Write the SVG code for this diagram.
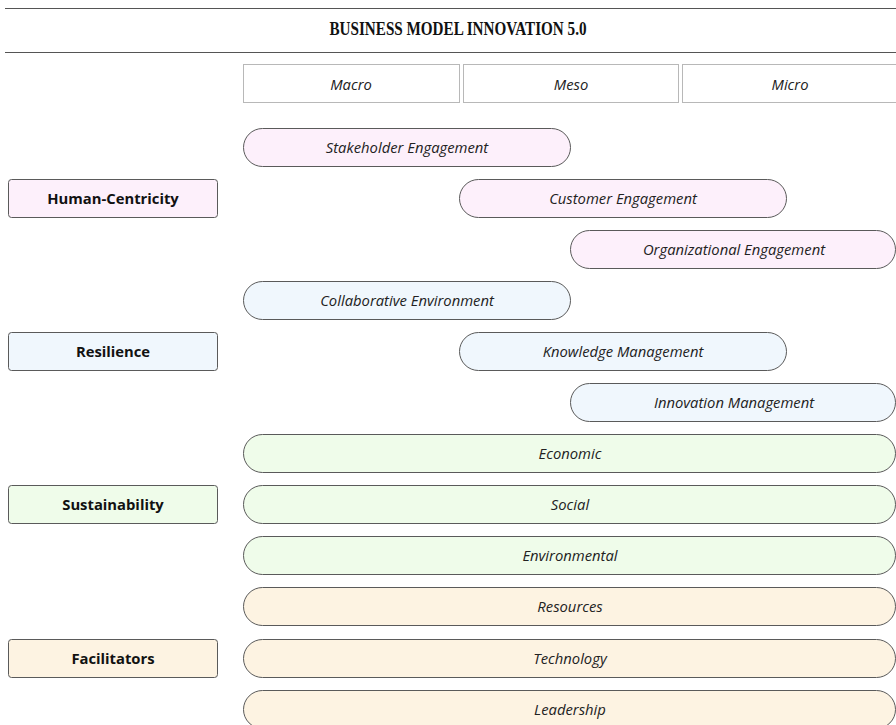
<svg xmlns="http://www.w3.org/2000/svg" width="896" height="725" viewBox="0 0 896 725">
<style>
.pill{stroke:#5a5a5a;stroke-width:1}
.lab{stroke:#5a5a5a;stroke-width:1}
.hc{fill:#fdf0fb}.rs{fill:#f0f7fd}.su{fill:#effcea}.fa{fill:#fdf3e2}
.pt{font-family:"Open Sans","Noto Sans",sans-serif;font-style:italic;font-size:14.8px;fill:#222;text-anchor:middle;dominant-baseline:central}
.lt{font-family:"Open Sans","Noto Sans",sans-serif;font-weight:bold;font-size:14.8px;fill:#111;text-anchor:middle;dominant-baseline:central}
.hd{fill:#fff;stroke:#b8b8b8;stroke-width:1}
</style>
<rect width="896" height="725" fill="#fff"/>
<g id="title">
<line x1="5" y1="8.5" x2="896" y2="8.5" stroke="#555" stroke-width="1.2"/>
<line x1="5" y1="52.5" x2="896" y2="52.5" stroke="#555" stroke-width="1.2"/>
<text x="458" y="35" font-family="Liberation Serif,serif" font-weight="bold" font-size="18" text-anchor="middle" textLength="257" lengthAdjust="spacingAndGlyphs" fill="#111">BUSINESS MODEL INNOVATION 5.0</text>
</g>
<g id="header">
<rect class="hd" x="243.5" y="64.5" width="216" height="38"/>
<rect class="hd" x="463.5" y="64.5" width="215" height="38"/>
<rect class="hd" x="682.5" y="64.5" width="216" height="38"/>
<text class="pt" x="351" y="83.5">Macro</text>
<text class="pt" x="571" y="83.5">Meso</text>
<text class="pt" x="790" y="83.5">Micro</text>
</g>
<g id="human-centricity">
<rect class="lab hc" x="8.5" y="179.5" width="209" height="38" rx="3"/>
<text class="lt" x="113" y="198">Human-Centricity</text>
</g>
<g id="stakeholder-engagement">
<rect class="pill hc" x="243.5" y="128.5" width="327" height="38" rx="19"/>
<text class="pt" x="407" y="147">Stakeholder Engagement</text>
</g>
<g id="customer-engagement">
<rect class="pill hc" x="459.5" y="179.5" width="327" height="38" rx="19"/>
<text class="pt" x="623" y="198">Customer Engagement</text>
</g>
<g id="organizational-engagement">
<rect class="pill hc" x="570.5" y="230.5" width="325" height="38" rx="19"/>
<text class="pt" x="734" y="249">Organizational Engagement</text>
</g>
<g id="resilience">
<rect class="lab rs" x="8.5" y="332.5" width="209" height="38" rx="3"/>
<text class="lt" x="113" y="351">Resilience</text>
</g>
<g id="collaborative-environment">
<rect class="pill rs" x="243.5" y="281.5" width="327" height="38" rx="19"/>
<text class="pt" x="407" y="300">Collaborative Environment</text>
</g>
<g id="knowledge-management">
<rect class="pill rs" x="459.5" y="332.5" width="327" height="38" rx="19"/>
<text class="pt" x="623" y="351">Knowledge Management</text>
</g>
<g id="innovation-management">
<rect class="pill rs" x="570.5" y="383.5" width="325" height="38" rx="19"/>
<text class="pt" x="734" y="402">Innovation Management</text>
</g>
<g id="sustainability">
<rect class="lab su" x="8.5" y="485.5" width="209" height="38" rx="3"/>
<text class="lt" x="113" y="504">Sustainability</text>
</g>
<g id="economic">
<rect class="pill su" x="243.5" y="434.5" width="652" height="38" rx="19"/>
<text class="pt" x="570" y="453">Economic</text>
</g>
<g id="social">
<rect class="pill su" x="243.5" y="485.5" width="652" height="38" rx="19"/>
<text class="pt" x="570" y="504">Social</text>
</g>
<g id="environmental">
<rect class="pill su" x="243.5" y="536.5" width="652" height="38" rx="19"/>
<text class="pt" x="570" y="555">Environmental</text>
</g>
<g id="facilitators">
<rect class="lab fa" x="8.5" y="639.5" width="209" height="38" rx="3"/>
<text class="lt" x="113" y="658">Facilitators</text>
</g>
<g id="resources">
<rect class="pill fa" x="243.5" y="587.5" width="652" height="38" rx="19"/>
<text class="pt" x="570" y="606">Resources</text>
</g>
<g id="technology">
<rect class="pill fa" x="243.5" y="639.5" width="652" height="38" rx="19"/>
<text class="pt" x="570" y="658">Technology</text>
</g>
<g id="leadership">
<rect class="pill fa" x="243.5" y="690.5" width="652" height="38" rx="19"/>
<text class="pt" x="570" y="709">Leadership</text>
</g>
<g id="connectors"></g>
</svg>
